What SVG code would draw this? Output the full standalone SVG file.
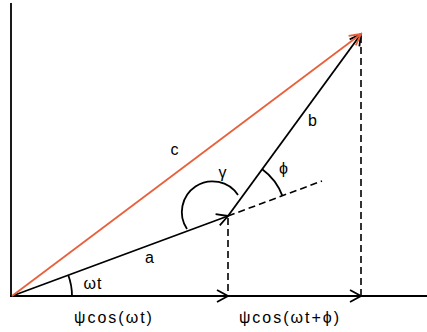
<svg xmlns="http://www.w3.org/2000/svg" width="427" height="332" viewBox="0 0 427 332">
<defs>
<style>
.ln{stroke:#000;stroke-width:1.8;fill:none}
.dash{stroke:#000;stroke-width:1.6;fill:none;stroke-dasharray:7 4}
.red{stroke:#e8603c;stroke-width:1.8;fill:none}
text{font-family:"Liberation Sans",Arial,sans-serif;font-size:16px;fill:#000;letter-spacing:1px}
.ax{letter-spacing:2px}
</style>
<marker id="ab" markerWidth="16" markerHeight="16" refX="14" refY="8" orient="auto" markerUnits="userSpaceOnUse">
<path d="M3,2 L14,8 L3,14" fill="none" stroke="#000" stroke-width="1.8"/>
</marker>
<marker id="ar" markerWidth="16" markerHeight="16" refX="14" refY="8" orient="auto" markerUnits="userSpaceOnUse">
<path d="M3,2 L14,8 L3,14" fill="none" stroke="#e8603c" stroke-width="1.8"/>
</marker>
</defs>
<g id="axes">
<line class="ln" x1="11" y1="3" x2="11" y2="297"/>
<line class="ln" x1="10" y1="296" x2="427" y2="296"/>
</g>
<g id="connectors">
<line class="ln" x1="12" y1="296" x2="228" y2="296" marker-end="url(#ab)"/>
<line class="ln" x1="228" y1="296" x2="361" y2="296" marker-end="url(#ab)"/>
<line class="dash" x1="228" y1="218" x2="228" y2="296"/>
<line class="dash" x1="361" y1="36" x2="361" y2="296"/>
<line class="dash" x1="228" y1="216" x2="322" y2="181"/>
<line class="ln" x1="12" y1="296" x2="228" y2="216" marker-end="url(#ab)"/>
<line class="ln" x1="228" y1="216" x2="361" y2="34" marker-end="url(#ab)"/>
<line class="red" x1="12" y1="296" x2="361" y2="34" marker-end="url(#ar)"/>
<path class="ln" d="M72,296 A60,60 0 0 0 68.3,275.2"/>
<path class="ln" d="M187,229 A25,25 0 1 1 238,195"/>
<path class="ln" d="M262.2,169.2 A58,58 0 0 1 282.4,195.9"/>
</g>
<g id="labels">
<text x="93" y="289" text-anchor="middle">ωt</text>
<text x="150" y="263" text-anchor="middle">a</text>
<text x="175" y="155" text-anchor="middle">c</text>
<text x="223" y="178" text-anchor="middle">γ</text>
<text x="284" y="174" text-anchor="middle">ϕ</text>
<text x="313" y="126" text-anchor="middle">b</text>
<text class="ax" x="114" y="323" text-anchor="middle">ψcos(ωt)</text>
<text class="ax" x="290" y="323" text-anchor="middle">ψcos(ωt+ϕ)</text>
</g>
</svg>
